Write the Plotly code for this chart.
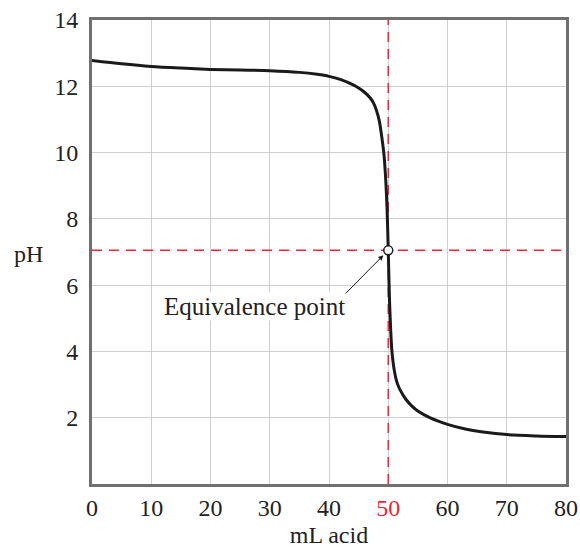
import plotly.graph_objects as go

# Titration curve data (mL acid added vs pH)
ml_acid = [0, 5, 10, 15, 20, 25, 30, 35, 38, 40, 42, 44, 45, 46, 47, 47.5, 48, 48.5, 49, 49.3, 49.6, 49.8, 50.0,
           50.2, 50.4, 50.6, 51, 51.5, 52, 53, 54, 55, 57, 60, 63, 66, 70, 75, 80]
ph = [12.78, 12.68, 12.6, 12.55, 12.51, 12.49, 12.47, 12.42, 12.36, 12.3, 12.2, 12.05, 11.95, 11.82, 11.64, 11.5, 11.28, 10.95, 10.35, 9.9, 9.1, 8.3, 7.05,
      5.6, 4.7, 4.05, 3.45, 3.05, 2.84, 2.55, 2.35, 2.2, 2.0, 1.8, 1.66, 1.57, 1.49, 1.45, 1.43]

equiv_x = [50]
equiv_y = [7.05]

x_ticks = [0, 10, 20, 30, 40, 50, 60, 70, 80]
x_ticktext = ["0", "10", "20", "30", "40", '<span style="color:#e8283c">50</span>', "60", "70", "80"]
y_ticks = [2, 4, 6, 8, 10, 12, 14]

FONT = "Liberation Serif"
FS = 24
RED = "#e8283c"
DASH = "10px,7px"

fig = go.Figure()

# dashed red guide lines (drawn first so the curve sits on top)
fig.add_trace(go.Scatter(x=[equiv_x[0], equiv_x[0]], y=[0, 14], mode="lines",
                         line=dict(color=RED, width=1.5, dash=DASH), showlegend=False, hoverinfo="skip"))
fig.add_trace(go.Scatter(x=[0, 80], y=[equiv_y[0], equiv_y[0]], mode="lines",
                         line=dict(color=RED, width=1.5, dash=DASH), showlegend=False, hoverinfo="skip"))

fig.add_trace(go.Scatter(x=ml_acid, y=ph, mode="lines",
                         line=dict(color="#1a1a1a", width=3, shape="spline", smoothing=0.8),
                         showlegend=False, hoverinfo="skip"))

fig.add_trace(go.Scatter(x=equiv_x, y=equiv_y, mode="markers",
                         marker=dict(size=9, color="white", line=dict(color="#1a1a1a", width=1.5)),
                         showlegend=False))

fig.add_annotation(x=50, y=7.05, ax=42.2, ay=5.64, axref="x", ayref="y", text="",
                   showarrow=True, arrowhead=2, arrowsize=1, arrowwidth=1, arrowcolor="#1a1a1a",
                   standoff=7)
fig.add_annotation(x=27.5, y=5.35, xref="x", yref="y", text="Equivalence point", showarrow=False,
                   font=dict(family=FONT, size=25, color="#222"), bgcolor="white", borderpad=0)

fig.add_annotation(x=-0.135, y=6.95, xref="paper", yref="y", text="pH", showarrow=False,
                   xanchor="center", font=dict(family=FONT, size=FS, color="#222"))

fig.update_layout(
    width=580, height=548,
    margin=dict(l=92, r=14, t=20, b=64),
    plot_bgcolor="white", paper_bgcolor="white",
    font=dict(family=FONT, size=FS, color="#222"),
)
fig.update_xaxes(range=[0, 80], tickvals=x_ticks, ticktext=x_ticktext, automargin=False,
                 showgrid=True, gridcolor="#cfcfcf", gridwidth=1,
                 showline=True, linecolor="#707070", linewidth=3, mirror=True,
                 ticks="", zeroline=False, tickfont=dict(family=FONT, size=FS),
                 title=dict(text="mL acid", font=dict(family=FONT, size=FS), standoff=10))
fig.update_yaxes(range=[0, 14], tickvals=y_ticks, automargin=False,
                 showgrid=True, gridcolor="#cfcfcf", gridwidth=1,
                 showline=True, linecolor="#707070", linewidth=3, mirror=True,
                 ticks="", zeroline=False, tickfont=dict(family=FONT, size=FS), ticklabelstandoff=6)

fig.write_html("out.html", config={"displayModeBar": False},
               post_script="document.body.style.margin='0';document.body.style.overflow='hidden';")
